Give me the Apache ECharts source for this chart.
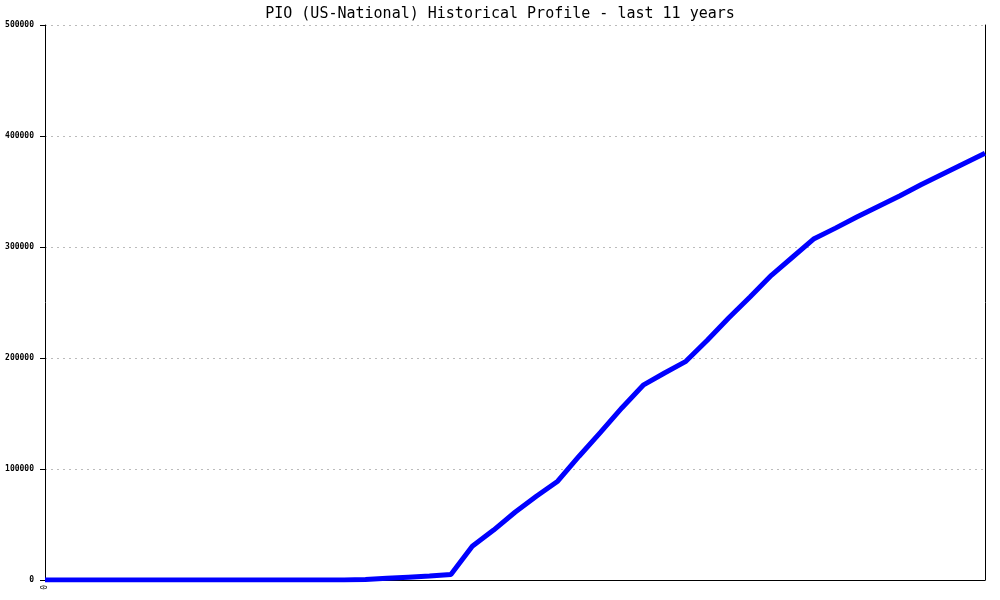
<!DOCTYPE html>
<html>
<head>
<meta charset="utf-8">
<script src="https://cdn.jsdelivr.net/npm/echarts@6/dist/echarts.min.js"></script>
<style>
  html, body { margin: 0; padding: 0; background: #fff; }
  #chart { width: 1000px; height: 600px; }
</style>
</head>
<body>
<div id="chart"></div>
<script>
  // quarterly samples over the last 11 years, only the first one is labelled
  const quarters = [
    '0', '', '', '', '', '', '', '', '', '', '', '', '', '', '',
    '', '', '', '', '', '', '', '', '', '', '', '', '', '', '',
    '', '', '', '', '', '', '', '', '', '', '', '', '', '', ''
  ];

  const pioValues = [
    0, 0, 0, 0, 0, 0, 0, 0, 0, 0, 0, 0, 0, 0, 0,
    500, 1500, 2500, 3500, 5000,
    30500, 45000, 61000, 75500, 89000,
    111500, 133000, 155000, 175500, 186500, 197000,
    216000, 236000, 255000, 274500, 291000, 307500,
    317000, 327000, 336500, 346000, 356000, 365500, 375000, 384500
  ];

  const yTicks = { min: 0, max: 500000, interval: 100000 };

  const chart = echarts.init(document.getElementById('chart'));
  chart.setOption({
    animation: false,
    backgroundColor: '#ffffff',
    title: {
      text: 'PIO (US-National) Historical Profile - last 11 years',
      left: 'center',
      top: 2,
      textStyle: {
        fontFamily: 'DejaVu Sans Mono',
        fontSize: 15,
        fontWeight: 'normal',
        color: '#000'
      }
    },
    grid: {
      left: 45,
      right: 15,
      top: 25,
      bottom: 20
    },
    xAxis: {
      type: 'category',
      data: quarters,
      boundaryGap: false,
      axisLine: { lineStyle: { color: '#000', width: 1 } },
      axisTick: { show: false },
      axisLabel: {
        interval: 0,
        rotate: 90,
        margin: 5,
        fontFamily: 'DejaVu Sans Mono',
        fontSize: 8,
        color: '#000'
      },
      splitLine: { show: false }
    },
    yAxis: [
      {
        type: 'value',
        min: yTicks.min,
        max: yTicks.max,
        interval: yTicks.interval,
        axisLine: { show: true, lineStyle: { color: '#000', width: 1 } },
        axisTick: { show: true, length: 5, lineStyle: { color: '#000', width: 1 } },
        axisLabel: {
          margin: 11,
          formatter: v => String(v),
          fontFamily: 'DejaVu Sans Mono',
          fontSize: 8,
          fontWeight: 'bold',
          color: '#000'
        },
        splitLine: {
          show: true,
          lineStyle: { color: '#bbbbbb', type: [2, 4], width: 1 }
        }
      },
      {
        type: 'value',
        position: 'right',
        min: yTicks.min,
        max: yTicks.max,
        interval: yTicks.interval,
        axisLine: { show: true, lineStyle: { color: '#000', width: 1 } },
        axisTick: { show: false },
        axisLabel: { show: false },
        splitLine: { show: false }
      }
    ],
    series: [
      {
        name: 'PIO',
        type: 'line',
        data: pioValues,
        showSymbol: false,
        symbol: 'none',
        lineStyle: { color: '#0000ff', width: 5 },
        itemStyle: { color: '#0000ff' }
      }
    ]
  });
</script>
</body>
</html>
